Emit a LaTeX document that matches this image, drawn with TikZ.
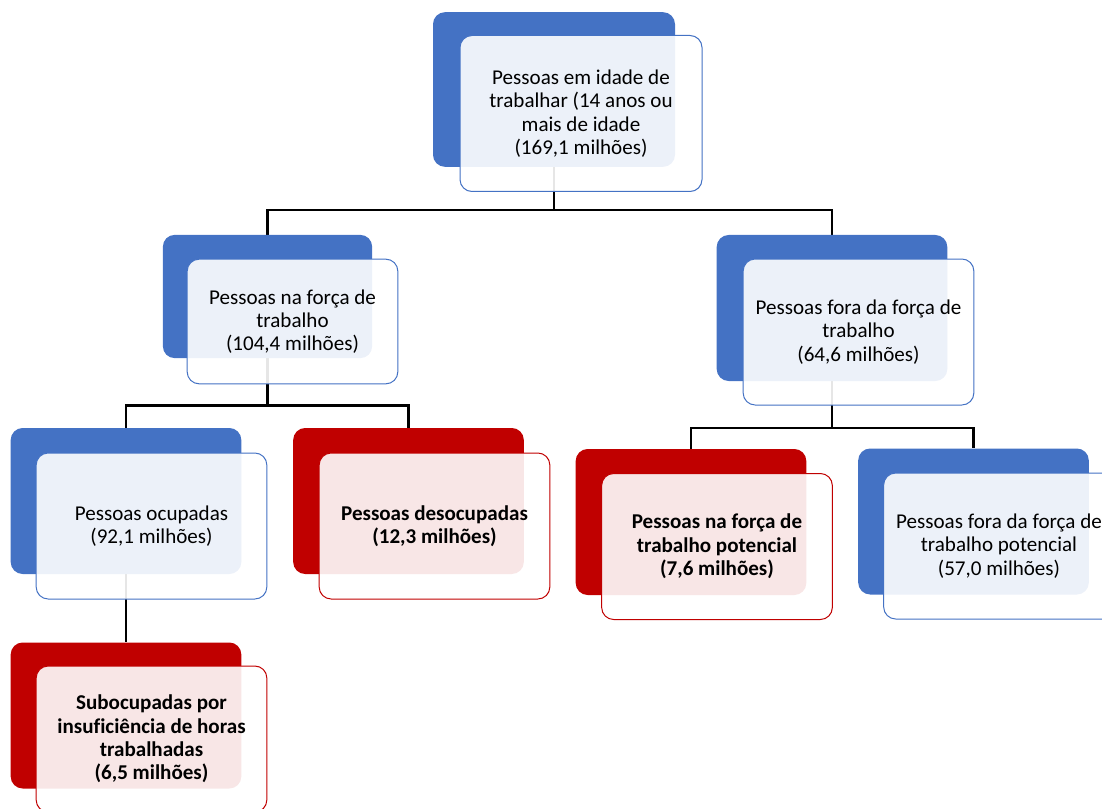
\documentclass[tikz,border=0pt]{standalone}
\usepackage{fontspec}
\setmainfont{Carlito}[Ligatures=NoCommon]
\usepackage{tikz}
\usetikzlibrary{positioning}
\usepackage{xcolor}
\definecolor{ibgeblue}{RGB}{68,114,196}
\definecolor{ibgered}{RGB}{192,0,0}
\pgfdeclarelayer{background}
\pgfsetlayers{background,main}

\begin{document}
\begin{tikzpicture}[x=0.75pt, y=-0.75pt,
  backbox/.style={rectangle, rounded corners=9pt, inner sep=0pt, fill=#1,
    minimum width=173pt, minimum height=109.5pt},
  frontbox/.style={rectangle, rounded corners=9pt, inner sep=0pt, draw=#1, line width=0.75pt,
    fill=white, fill opacity=0.9, text opacity=1, align=center,
    minimum width=173pt, minimum height=109.5pt, font=\fontsize{15.8}{17.5}\selectfont},
  link/.style={line width=1.8pt}]
\useasboundingbox (0,0) rectangle (1102,809);
\clip (0,0) rectangle (1102,809);

% back boxes
\node[backbox=ibgeblue, minimum width=181.5pt, minimum height=116pt] (idade) at (554,89.5) {};
\node[backbox=ibgeblue, minimum width=157pt, minimum height=92.5pt] (forca) at (267.5,296.5) {};
\node[backbox=ibgeblue] (fora) at (832,308) {};
\node[backbox=ibgeblue] (ocup) at (126,501) {};
\node[backbox=ibgered] (desoc) at (408.5,501) {};
\node[backbox=ibgered] (pot) at (691,522) {};
\node[backbox=ibgeblue] (forapot) at (973.5,521.5) {};
\node[backbox=ibgered] (subocup) at (126,715.5) {};

% front boxes with the texts
\node[frontbox=ibgeblue, minimum width=181.5pt, minimum height=117pt] (idade-txt) at (581,113.5)
  {Pessoas em idade de\\trabalhar (14 anos ou\\mais de idade\\(169,1 milhões)};
\node[frontbox=ibgeblue, minimum width=158pt, minimum height=93.5pt] (forca-txt) at (292.5,321.5)
  {Pessoas na força de\\trabalho\\(104,4 milhões)};
\node[frontbox=ibgeblue] (fora-txt) at (858.5,332)
  {Pessoas fora da força de\\trabalho\\(64,6 milhões)};
\node[frontbox=ibgeblue] (ocup-txt) at (151.5,526)
  {Pessoas ocupadas\\(92,1 milhões)};
\node[frontbox=ibgered] (desoc-txt) at (434.5,526)
  {\bfseries Pessoas desocupadas\\\bfseries (12,3 milhões)};
\node[frontbox=ibgered] (pot-txt) at (717,546.5)
  {\bfseries Pessoas na força de\\\bfseries trabalho potencial\\\bfseries (7,6 milhões)};
\node[frontbox=ibgeblue] (forapot-txt) at (999,546)
  {Pessoas fora da força de\\trabalho potencial\\(57,0 milhões)};
\node[frontbox=ibgered] (subocup-txt) at (151.5,739)
  {\bfseries Subocupadas por\\\bfseries insuficiência de horas\\\bfseries trabalhadas\\\bfseries (6,5 milhões)};

% connectors
\begin{pgfonlayer}{background}
\draw[link] (idade.south) -- ++(0,43) -| (forca.north);
\draw[link] (idade.south) -- ++(0,43) -| (fora.north);
\draw[link] (forca.south) -- ++(0,47) -| (ocup.north);
\draw[link] (forca.south) -- ++(0,47) -| (desoc.north);
\draw[link] (fora.south) -- ++(0,47) -| (pot.north);
\draw[link] (fora.south) -- ++(0,47) -| (forapot.north);
\draw[link] (ocup.south) -- (subocup.north);
\end{pgfonlayer}
\end{tikzpicture}
\end{document}
